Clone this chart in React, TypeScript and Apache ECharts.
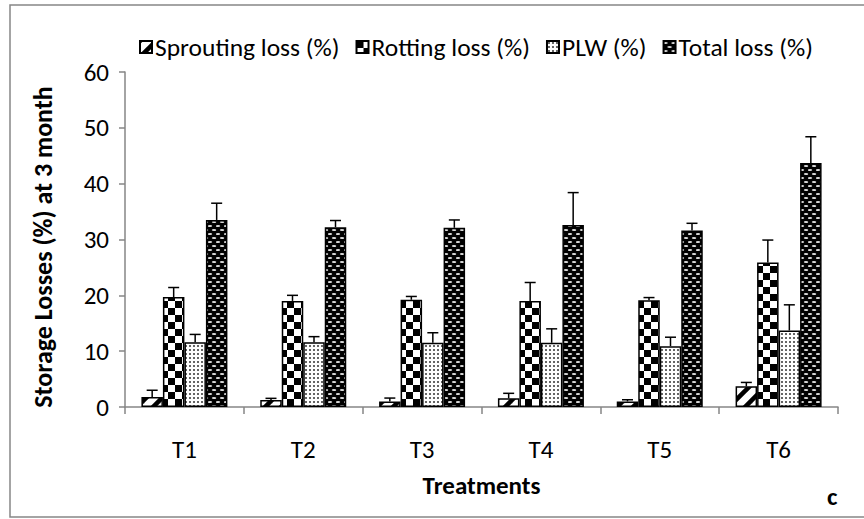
import React, { useEffect, useRef } from "react";
import * as echarts from "echarts";

const categories = ["T1", "T2", "T3", "T4", "T5", "T6"];
const seriesNames = ["Sprouting loss (%)", "Rotting loss (%)", "PLW (%)", "Total loss (%)"];
const sprouting = [1.8, 1.25, 1.0, 1.55, 1.0, 3.7];
const sproutingErr = [1.2, 0.3, 0.6, 0.9, 0.3, 0.7];
const rotting = [19.7, 19.0, 19.2, 19.0, 19.1, 25.9];
const rottingErr = [1.7, 1.0, 0.6, 3.3, 0.5, 4.0];
const plw = [11.6, 11.6, 11.5, 11.5, 10.9, 13.7];
const plwErr = [1.4, 1.0, 1.8, 2.5, 1.6, 4.6];
const total = [33.5, 32.2, 32.1, 32.6, 31.6, 43.7];
const totalErr = [3.0, 1.2, 1.4, 5.8, 1.3, 4.7];
const yTicks = { min: 0, max: 60, interval: 10 };

const FONT = 'Carlito, Calibri, "Open Sans", sans-serif';
const FS = 25;
const BAR_W = 21.5;

function makeTile(w: number, h: number, draw: (c: CanvasRenderingContext2D) => void) {
  const cv = document.createElement("canvas");
  cv.width = w;
  cv.height = h;
  const ctx = cv.getContext("2d")!;
  draw(ctx);
  return { image: cv.toDataURL(), imageWidth: w, imageHeight: h, repeat: "repeat" };
}

function patterns() {
  const sprout = makeTile(16, 16, (c) => {
    c.fillStyle = "#fff";
    c.fillRect(0, 0, 16, 16);
    c.strokeStyle = "#000";
    c.lineWidth = 4.5;
    for (let k = -1; k <= 1; k++) {
      c.beginPath();
      c.moveTo(-4 + k * 16, 20);
      c.lineTo(20 + k * 16, -4);
      c.stroke();
    }
  });
  const rot = makeTile(14, 14, (c) => {
    c.fillStyle = "#fff";
    c.fillRect(0, 0, 14, 14);
    c.fillStyle = "#000";
    c.fillRect(0, 0, 7, 7);
    c.fillRect(7, 7, 7, 7);
  });
  const dots = makeTile(4, 4, (c) => {
    c.fillStyle = "#fff";
    c.fillRect(0, 0, 4, 4);
    c.fillStyle = "#666";
    c.fillRect(1, 1, 2, 2);
  });
  const tot = makeTile(8, 8, (c) => {
    c.fillStyle = "#000";
    c.fillRect(0, 0, 8, 8);
    c.fillStyle = "#ddd";
    const pts = [[2, 2], [6, 6], [-2, 6], [10, 6]];
    pts.forEach(([x, y]) => {
      c.beginPath();
      c.ellipse(x, y, 2.2, 1.1, 0, 0, Math.PI * 2);
      c.fill();
    });
  });
  return [sprout, rot, dots, tot];
}

export default function App() {
  const ref = useRef<HTMLDivElement>(null);
  useEffect(() => {
    document.body.style.margin = "0";
    const chart = echarts.init(ref.current!, null, { renderer: "svg" });
    const pats = patterns();
    const values = [sprouting, rotting, plw, total];
    const errs = [sproutingErr, rottingErr, plwErr, totalErr];

    const barSeries = seriesNames.map((name, i) => ({
      name,
      type: "bar",
      data: values[i],
      barWidth: BAR_W,
      barGap: "0%",
      itemStyle: { color: pats[i] as any, borderColor: "#000", borderWidth: 1.5 },
      z: 2,
    }));

    const errSeries = seriesNames.map((_, i) => ({
      type: "custom",
      data: values[i].map((v, j) => [j, v, v + errs[i][j]]),
      z: 5,
      silent: true,
      renderItem: (params: any, api: any) => {
        const c = api.value(0);
        const base = api.coord([c, api.value(1)]);
        const top = api.coord([c, api.value(2)]);
        const x = base[0] + (i - 1.5) * BAR_W;
        const cap = 5.5;
        return {
          type: "group",
          children: [
            { type: "line", shape: { x1: x, y1: base[1], x2: x, y2: top[1] }, style: { stroke: "#000", lineWidth: 1.5 } },
            { type: "line", shape: { x1: x - cap, y1: top[1], x2: x + cap, y2: top[1] }, style: { stroke: "#000", lineWidth: 1.5 } },
          ],
        };
      },
    }));

    chart.setOption({
      animation: false,
      backgroundColor: "#fff",
      textStyle: { fontFamily: FONT },
      legend: {
        data: seriesNames,
        left: 134,
        top: 29,
        itemWidth: 12,
        itemHeight: 12,
        itemGap: 16,
        icon: "rect",
        textStyle: { fontSize: 25.5, color: "#000", fontFamily: FONT, padding: [0, 0, 0, -2] },
      },
      grid: { left: 125, right: 26, top: 72, bottom: 112, containLabel: false },
      xAxis: {
        type: "category",
        data: categories,
        name: "Treatments",
        nameLocation: "middle",
        nameGap: 66,
        nameTextStyle: { fontSize: FS, fontWeight: "bold", color: "#000", fontFamily: FONT },
        axisLine: { lineStyle: { color: "#868686", width: 1.5 } },
        axisTick: { show: true, inside: false, length: 7, alignWithLabel: false, lineStyle: { color: "#868686", width: 1.5 } },
        axisLabel: { fontSize: FS, color: "#000", margin: 30, fontFamily: FONT },
      },
      yAxis: {
        type: "value",
        min: yTicks.min,
        max: yTicks.max,
        interval: yTicks.interval,
        axisLine: { show: true, lineStyle: { color: "#868686", width: 1.5 } },
        axisTick: { show: true, inside: false, length: 6, lineStyle: { color: "#868686", width: 1.5 } },
        axisLabel: { fontSize: FS, color: "#000", margin: 16, fontFamily: FONT },
        splitLine: { show: false },
      },
      graphic: [
        {
          type: "rect",
          shape: { x: 10, y: 5, width: 880, height: 512 },
          style: { fill: "none", stroke: "#868686", lineWidth: 1.5 },
          silent: true,
        },
        {
          type: "text",
          x: 43,
          y: 247,
          rotation: Math.PI / 2,
          style: {
            text: "Storage Losses (%) at 3 month",
            fontSize: 26,
            fontWeight: "bold",
            fill: "#000",
            fontFamily: FONT,
            align: "center",
            verticalAlign: "middle",
          },
        },
        {
          type: "text",
          x: 827,
          y: 484,
          style: { text: "c", fontSize: FS, fontWeight: "bold", fill: "#000", fontFamily: FONT },
        },
      ],
      series: [...barSeries, ...errSeries],
    } as any);
    return () => chart.dispose();
  }, []);
  return <div ref={ref} style={{ width: 864, height: 519 }} />;
}
